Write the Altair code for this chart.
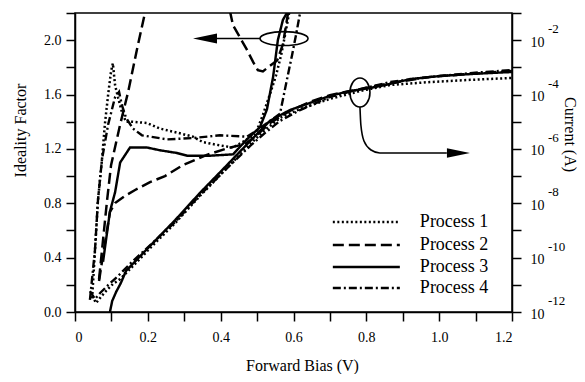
import altair as alt
import pandas as pd

FONT = "Liberation Serif"
processes = ["Process 1", "Process 2", "Process 3", "Process 4"]

# ---------------- Ideality factor (left axis) ----------------
p1_n_v = [0.047, 0.055, 0.063, 0.074, 0.082, 0.091, 0.099, 0.104, 0.110, 0.118, 0.129, 0.140, 0.159, 0.198,
          0.233, 0.280, 0.324, 0.351, 0.390, 0.434, 0.472, 0.494, 0.516, 0.535, 0.552, 0.566, 0.577, 0.588, 0.593]
p1_n = [0.10, 0.46, 0.82, 1.12, 1.38, 1.60, 1.77, 1.83, 1.67, 1.58, 1.47, 1.40, 1.40, 1.39,
        1.35, 1.32, 1.29, 1.25, 1.23, 1.21, 1.27, 1.30, 1.45, 1.60, 1.74, 1.89, 2.04, 2.20, 2.30]

p2_n_v = [0.066, 0.077, 0.088, 0.099, 0.124, 0.146, 0.170, 0.192, 0.206, 0.410,
          0.434, 0.453, 0.472, 0.489, 0.502, 0.516, 0.530, 0.555, 0.571, 0.585, 0.590]
p2_n = [0.24, 0.53, 0.82, 1.08, 1.38, 1.62, 1.93, 2.20, 2.41, 2.40,
        2.11, 2.02, 1.93, 1.84, 1.78, 1.77, 1.80, 1.85, 1.97, 2.20, 2.30]

p3_n_v = [0.077, 0.096, 0.110, 0.124, 0.151, 0.198, 0.233, 0.280, 0.308, 0.371, 0.434,
          0.472, 0.508, 0.527, 0.544, 0.557, 0.571, 0.582, 0.586]
p3_n = [0.37, 0.74, 0.88, 1.10, 1.21, 1.21, 1.19, 1.17, 1.15, 1.15, 1.16,
        1.27, 1.36, 1.49, 1.73, 2.00, 2.15, 2.20, 2.30]

p4_n_v = [0.041, 0.055, 0.063, 0.074, 0.091, 0.110, 0.121, 0.129, 0.140, 0.159, 0.184, 0.253,
          0.324, 0.398, 0.472, 0.502, 0.563, 0.582, 0.596, 0.607, 0.618, 0.623]
p4_n = [0.09, 0.46, 0.82, 1.12, 1.38, 1.58, 1.62, 1.52, 1.43, 1.35, 1.30, 1.27,
        1.28, 1.30, 1.29, 1.34, 1.46, 1.71, 1.89, 2.04, 2.20, 2.30]

# ---------------- Current (right axis), log10(I / A) ----------------
p1_i_v = [0.047, 0.058, 0.069, 0.085, 0.104, 0.124, 0.146, 0.178, 0.206, 0.275, 0.343, 0.412,
          0.481, 0.522, 0.563, 0.618, 0.700, 0.783, 0.865, 0.975, 1.085, 1.200]
p1_logi = [-11.41, -11.67, -11.48, -11.23, -10.97, -10.79, -10.49, -10.05, -9.65, -8.73, -7.73, -6.78,
           -5.82, -5.30, -4.86, -4.53, -4.16, -3.87, -3.65, -3.54, -3.46, -3.39]

p2_i_v = [0.066, 0.077, 0.088, 0.096, 0.110, 0.137, 0.165, 0.206, 0.247, 0.297, 0.362, 0.420,
          0.467, 0.494, 0.535, 0.590, 0.645, 0.700, 0.783, 0.865, 0.975, 1.085, 1.200]
p2_logi = [-10.86, -9.90, -8.98, -8.32, -7.99, -7.73, -7.51, -7.22, -7.00, -6.59, -6.22, -5.97,
           -5.82, -5.56, -5.05, -4.60, -4.27, -4.02, -3.80, -3.58, -3.35, -3.24, -3.13]

p3_i_v = [0.096, 0.102, 0.113, 0.126, 0.140, 0.206, 0.275, 0.343, 0.412, 0.481, 0.508, 0.535,
          0.590, 0.645, 0.700, 0.755, 0.810, 0.865, 0.920, 1.002, 1.093, 1.200]
p3_logi = [-12.00, -11.60, -11.26, -10.93, -10.49, -9.57, -8.62, -7.62, -6.67, -5.71, -5.34, -4.97,
           -4.57, -4.31, -4.05, -3.87, -3.76, -3.61, -3.43, -3.32, -3.24, -3.17]

p4_i_v = [0.041, 0.055, 0.069, 0.091, 0.118, 0.151, 0.192, 0.275, 0.343, 0.412, 0.481, 0.522,
          0.563, 0.618, 0.700, 0.783, 0.865, 0.975, 1.085, 1.200]
p4_logi = [-11.23, -11.52, -11.30, -11.01, -10.68, -10.23, -9.72, -8.69, -7.70, -6.78, -5.89, -5.41,
           -4.97, -4.57, -4.09, -3.80, -3.54, -3.35, -3.21, -3.10]

# axis tick values
x_ticks = [round(i * 0.1, 1) for i in range(13)]
n_ticks = [round(i * 0.2, 1) for i in range(12)]
i_exps = list(range(-12, 0))
i_label_exps = [-12, -10, -8, -6, -4, -2]

# annotation anchors (data units: V, ideality)
ell1 = (0.574, 2.012)
ell2 = (0.7825, 1.615)
arrow1_x = [0.508, 0.384]
arrow1_y = [2.012, 2.012]
head1 = (0.357, 2.012)
arrow2_x = [0.7825, 0.785, 0.7935, 0.813, 0.837, 1.021]
arrow2_y = [1.508, 1.376, 1.258, 1.192, 1.170, 1.170]
head2 = (1.053, 1.170)
legend_y = [0.662, 0.493, 0.331, 0.177]
legend_x0, legend_x1, legend_tx = 0.708, 0.892, 0.947

# ---------------- tables ----------------
def long_table(pairs, ycol):
    rows = []
    for proc, (xs_, ys_) in zip(processes, pairs):
        for k, (a, b) in enumerate(zip(xs_, ys_)):
            rows.append({"process": proc, "V": a, ycol: b, "idx": k})
    return pd.DataFrame(rows)

ideal_df = long_table([(p1_n_v, p1_n), (p2_n_v, p2_n), (p3_n_v, p3_n), (p4_n_v, p4_n)], "n")
cur_df = long_table([(p1_i_v, p1_logi), (p2_i_v, p2_logi), (p3_i_v, p3_logi), (p4_i_v, p4_logi)], "logI")
cur_df["I"] = 10.0 ** cur_df["logI"]

legend_df = pd.DataFrame({"process": processes, "ly": legend_y,
                          "lx0": [legend_x0] * 4, "lx1": [legend_x1] * 4, "tx": [legend_tx] * 4})
sup_df = pd.DataFrame({"I": [10.0 ** e for e in i_label_exps], "V": [1.2] * len(i_label_exps),
                       "t": [str(e) for e in i_label_exps]})

# ---------------- scales ----------------
xs = alt.Scale(domain=[0, 1.2], nice=False, zero=False)
ns = alt.Scale(domain=[0, 2.2], nice=False, zero=False)
ls = alt.Scale(type="log", domain=[1e-12, 1e-1], nice=False)
dash = alt.Scale(domain=processes, range=[[2, 2.5], [11, 5], [1, 0], [8, 3, 2, 3]])
widths = alt.Scale(domain=processes, range=[2.5, 2.4, 1.6, 2.4])

common = dict(labelFont=FONT, titleFont=FONT, labelFontSize=14, titleFontSize=16,
              titleFontWeight="normal", labelColor="black", titleColor="black",
              domainColor="black", tickColor="black", domainWidth=1.5, tickWidth=1.5,
              grid=False, tickSize=9)

x_axis = alt.Axis(values=x_ticks, title="Forward Bias (V)", orient="bottom",
                  labelExpr="round(datum.value*10) % 2 == 0 ? (datum.value == 0 ? '0' : format(datum.value, '.1f')) : ''",
                  labelPadding=9, titleX=227, titleY=53, titleBaseline="middle",
                  titleAlign="center", **common)
n_axis = alt.Axis(values=n_ticks, title="Ideality Factor",
                  labelExpr="round(datum.value*10) % 4 == 0 ? format(datum.value, '.1f') : ''",
                  labelPadding=5, titleX=-55, titleY=117, titleAngle=-90,
                  titleBaseline="middle", titleAlign="center", **common)
i_axis = alt.Axis(values=[10.0 ** e for e in i_exps], title="Current (A)", orient="right",
                  labelExpr="round(log(datum.value)/LN10) % 2 == 0 ? '10' : ''",
                  labelPadding=9, labelAlign="left", labelOffset=2, titleX=57, titleY=121,
                  titleAngle=90, titleBaseline="middle", titleAlign="center", **common)

sd = alt.StrokeDash("process:N", scale=dash, legend=None)
sw = alt.StrokeWidth("process:N", scale=widths, legend=None)

XN = dict(scale=xs, axis=None)
YN = dict(scale=ns, axis=None)

ideal_lines = alt.Chart(ideal_df).mark_line(clip=True, color="black", strokeCap="butt").encode(
    x=alt.X("V:Q", scale=xs, axis=x_axis),
    y=alt.Y("n:Q", scale=ns, axis=n_axis),
    strokeDash=sd, strokeWidth=sw, order="idx:Q")

cur_lines = alt.Chart(cur_df).mark_line(clip=True, color="black", strokeCap="butt").encode(
    x=alt.X("V:Q", **XN),
    y=alt.Y("I:Q", scale=ls, axis=i_axis),
    strokeDash=sd, strokeWidth=sw, order="idx:Q")

sup = alt.Chart(sup_df).mark_text(align="left", baseline="middle", dx=36, dy=-11, font=FONT,
                                  fontSize=13, color="black").encode(
    x=alt.X("V:Q", **XN), y=alt.Y("I:Q", scale=ls, axis=None), text="t:N")

leg_rules = alt.Chart(legend_df).mark_rule(color="black", strokeCap="butt").encode(
    x=alt.X("lx0:Q", **XN), x2="lx1:Q",
    y=alt.Y("ly:Q", **YN), strokeDash=sd, strokeWidth=sw)
leg_text = alt.Chart(legend_df).mark_text(align="left", baseline="middle", font=FONT,
                                         fontSize=18, color="black").encode(
    x=alt.X("tx:Q", **XN), y=alt.Y("ly:Q", **YN), text="process:N")

def pt(xy):
    return pd.DataFrame({"V": [xy[0]], "n": [xy[1]]})

ell1_c = alt.Chart(pt(ell1)).mark_point(
    shape="M -1 0 A 1 0.29 0 1 1 1 0 A 1 0.29 0 1 1 -1 0 Z", size=2304, filled=False,
    stroke="black", strokeWidth=1.6, opacity=1).encode(x=alt.X("V:Q", **XN), y=alt.Y("n:Q", **YN))
ell2_c = alt.Chart(pt(ell2)).mark_point(
    shape="M 0 -1 A 0.69 1 0 1 1 0 1 A 0.69 1 0 1 1 0 -1 Z", size=841, filled=False,
    stroke="black", strokeWidth=1.6, opacity=1).encode(x=alt.X("V:Q", **XN), y=alt.Y("n:Q", **YN))
head1_c = alt.Chart(pt(head1)).mark_point(
    shape="M -1 0 L 1 -0.42 L 1 0.42 Z", size=576, filled=True, color="black", opacity=1).encode(
    x=alt.X("V:Q", **XN), y=alt.Y("n:Q", **YN))
head2_c = alt.Chart(pt(head2)).mark_point(
    shape="M 1 0 L -1 -0.42 L -1 0.42 Z", size=529, filled=True, color="black", opacity=1).encode(
    x=alt.X("V:Q", **XN), y=alt.Y("n:Q", **YN))
shaft1 = alt.Chart(pd.DataFrame({"V": arrow1_x, "n": arrow1_y})).mark_line(
    color="black", strokeWidth=1.6).encode(x=alt.X("V:Q", **XN), y=alt.Y("n:Q", **YN))
shaft2 = alt.Chart(pd.DataFrame({"V": arrow2_x, "n": arrow2_y})).mark_line(
    color="black", strokeWidth=1.6, interpolate="monotone").encode(
    x=alt.X("V:Q", **XN), y=alt.Y("n:Q", **YN))

chart = alt.layer(
    ideal_lines, cur_lines, sup, leg_rules, leg_text, ell1_c, ell2_c, shaft1, shaft2, head1_c, head2_c
).resolve_scale(y="independent").resolve_axis(x="independent").properties(
    width=437, height=299,
    background="white",
    autosize=alt.AutoSizeParams(type="none"),
    padding={"left": 67, "top": 5, "right": 65, "bottom": 62},
).configure_view(stroke="black", strokeWidth=1.5).configure_axis(
    labelFont=FONT, titleFont=FONT, grid=False
).configure_text(font=FONT)

chart.save("out.html", embed_options={"renderer": "svg", "actions": False})
